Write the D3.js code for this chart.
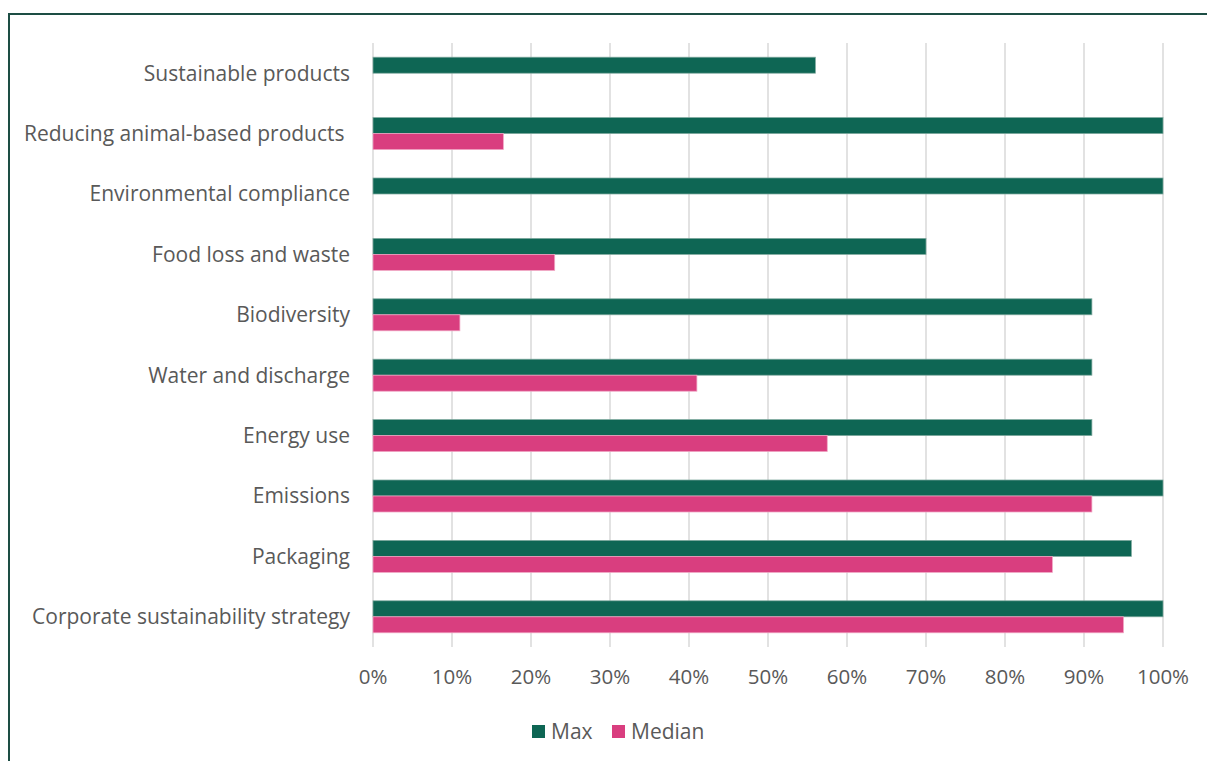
<!DOCTYPE html>
<html>
<head>
<meta charset="utf-8">
<script src="https://cdn.jsdelivr.net/npm/d3@7"></script>
<style>
  body { margin: 0; background: #fff; }
  svg text { font-family: "Open Sans", Lato, sans-serif; fill: #595959; }
</style>
</head>
<body>
<svg id="chart" width="1207" height="761"></svg>
<script>
var categories = ["Sustainable products", "Reducing animal-based products ", "Environmental compliance",
  "Food loss and waste", "Biodiversity", "Water and discharge", "Energy use", "Emissions",
  "Packaging", "Corporate sustainability strategy"];
var maxValues = [56, 100, 100, 70, 91, 91, 91, 100, 96, 100];
var medianValues = [null, 16.5, null, 23, 11, 41, 57.5, 91, 86, 95];
var seriesNames = ["Max", "Median"];
var seriesColors = ["#0e6654", "#d93e7f"];
var ticks = [0, 10, 20, 30, 40, 50, 60, 70, 80, 90, 100];

var svg = d3.select("#chart");

// outer frame (cut off at right and bottom)
svg.append("rect")
    .attr("x", 9).attr("y", 14)
    .attr("width", 1300).attr("height", 800)
    .attr("fill", "none")
    .attr("stroke", "#1d4d44")
    .attr("stroke-width", 2);

var x = d3.scaleLinear().domain([0, 100]).range([373, 1163]);
var y = d3.scaleBand().domain(categories).range([43, 647])
    .paddingInner(0.47).paddingOuter(0.235);
var ySub = d3.scaleBand().domain(seriesNames).range([0, y.bandwidth()]);

// gridlines
svg.append("g").selectAll("line")
  .data(ticks)
  .enter().append("line")
    .attr("x1", function(d) { return x(d); })
    .attr("x2", function(d) { return x(d); })
    .attr("y1", 43).attr("y2", 647)
    .attr("stroke", "#d9d9d9")
    .attr("stroke-width", 1.5);

// tick labels
svg.append("g").selectAll("text")
  .data(ticks)
  .enter().append("text")
    .attr("x", function(d) { return x(d); })
    .attr("y", 684)
    .attr("text-anchor", "middle")
    .style("font-size", "20.5px")
    .text(function(d) { return d + "%"; });

// category labels
svg.append("g").selectAll("text")
  .data(categories)
  .enter().append("text")
    .attr("x", 350)
    .attr("y", function(d) { return y(d) + y.bandwidth() / 2; })
    .attr("dy", "0.35em")
    .attr("text-anchor", "end")
    .style("font-size", "21px")
    .style("white-space", "pre")
    .text(function(d) { return d; });

// bars
var rows = categories.map(function(c, i) {
  return { cat: c, values: [maxValues[i], medianValues[i]] };
});

var groups = svg.append("g").selectAll("g")
  .data(rows)
  .enter().append("g")
    .attr("transform", function(d) { return "translate(0," + y(d.cat) + ")"; });

groups.selectAll("rect")
  .data(function(d) {
    return d.values.map(function(v, j) { return { name: seriesNames[j], value: v, j: j }; })
      .filter(function(e) { return e.value != null; });
  })
  .enter().append("rect")
    .attr("x", x(0))
    .attr("y", function(d) { return ySub(d.name); })
    .attr("width", function(d) { return x(d.value) - x(0); })
    .attr("height", ySub.bandwidth())
    .attr("fill", function(d) { return seriesColors[d.j]; })
    .attr("stroke", function(d) { return d.j === 0 ? "#7fa99f" : "#f0a6c4"; })
    .attr("stroke-width", 0.75);

// legend
var legend = svg.append("g").attr("transform", "translate(532,725)");
var legendX = [0, 80];
seriesNames.forEach(function(name, i) {
  var g = legend.append("g").attr("transform", "translate(" + legendX[i] + ",0)");
  g.append("rect").attr("width", 13).attr("height", 13).attr("fill", seriesColors[i]);
  g.append("text").attr("x", 19).attr("y", 6.5).attr("dy", "0.35em")
    .style("font-size", "21px").text(name);
});
</script>
</body>
</html>
